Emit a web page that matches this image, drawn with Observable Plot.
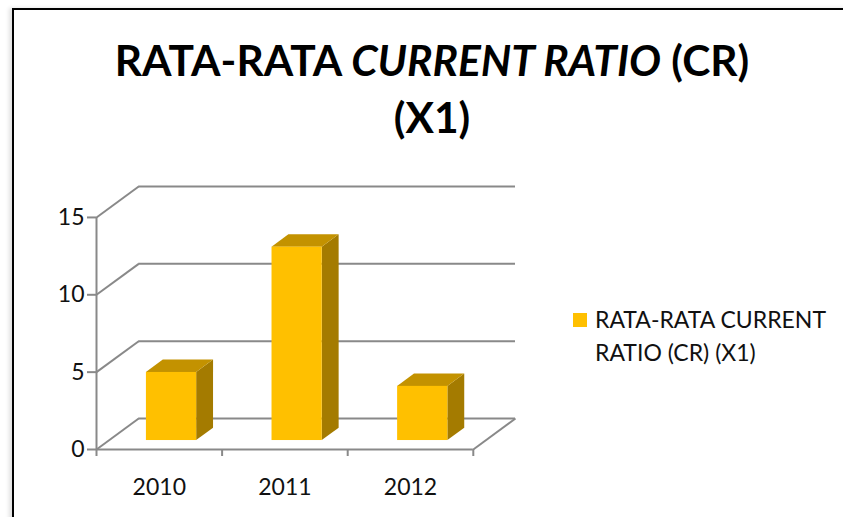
<!DOCTYPE html>
<html>
<head>
<meta charset="utf-8">
<script src="https://cdn.jsdelivr.net/npm/d3@7"></script>
<script src="https://cdn.jsdelivr.net/npm/@observablehq/plot@0.6"></script>
<style>
  html, body { margin: 0; padding: 0; background: #fff; }
  body { width: 843px; height: 517px; position: relative; overflow: hidden; font-family: Lato, "Open Sans", sans-serif; }
  #frame { position: absolute; left: 12px; top: 8px; width: 900px; height: 600px; border-left: 2.5px solid #000; border-top: 2.5px solid #000; box-shadow: -3px 0 4px rgba(0,0,0,0.12); }
  #title { position: absolute; left: 0; width: 864px; top: 31px; text-align: center; font-weight: 700; font-size: 42.5px; line-height: 57px; color: #000; }
  #chart { position: absolute; left: 0; top: 150px; }
  #legend { position: absolute; left: 573px; top: 303px; font-size: 23px; line-height: 33px; color: #111; }
  #legend .sw { position: absolute; left: 0; top: 10px; width: 14px; height: 14px; background: #FFC000; }
  #legend .tx { position: absolute; left: 22px; top: 0; white-space: nowrap; }
</style>
</head>
<body>
<div id="frame"></div>
<div id="title">RATA-RATA <i>CURRENT RATIO</i> (CR)<br>(X1)</div>
<div id="chart"></div>
<div id="legend"><div class="sw"></div><div class="tx">RATA-RATA CURRENT<br>RATIO (CR) (X1)</div></div>
<script>
// ---- data ----
const years = ["2010", "2011", "2012"];
const values = [4.4, 12.5, 3.5];
const yTicks = [0, 5, 10, 15];
const seriesName = "RATA-RATA CURRENT RATIO (CR) (X1)";

// ---- 3D oblique projection constants (in data units) ----
const depthX = 0.336;   // full depth along x (category units)
const depthY = 2.0;     // full depth along y (value units)
const f1 = 0.29;        // bar front plane (fraction of depth)
const bd = 0.40;        // bar depth (fraction of depth)
const barW = 0.40;      // bar width (category units)
const nCat = years.length;
const gray = "#898989";

const bars = years.map((yr, i) => {
  const xl = i + 0.5 - barW / 2 + f1 * depthX;
  const xr = xl + barW;
  const y0 = f1 * depthY;
  return {yr, v: values[i], xl, xr, y0, y1: values[i] + y0};
});
const sidePts = bars.flatMap(b => [
  {yr: b.yr, x: b.xr, lo: b.y0, hi: b.y1},
  {yr: b.yr, x: b.xr + bd * depthX, lo: b.y0 + bd * depthY, hi: b.y1 + bd * depthY}
]);
const topPts = bars.flatMap(b => [
  {yr: b.yr, y: b.y1, l: b.xl, r: b.xr},
  {yr: b.yr, y: b.y1 + bd * depthY, l: b.xl + bd * depthX, r: b.xr + bd * depthX}
]);

const W = 560, H = 367;
const chart = Plot.plot({
  width: W,
  height: H,
  marginLeft: 96,
  marginRight: W - 515,
  marginTop: 36,
  marginBottom: 68,
  x: {domain: [0, nCat + depthX], axis: null},
  y: {domain: [0, 15 + depthY], axis: null},
  style: {fontFamily: "Lato, 'Open Sans', sans-serif", overflow: "visible", background: "transparent"},
  marks: [
    // back wall gridlines
    Plot.ruleY(yTicks, {y: d => d + depthY, x1: depthX, x2: nCat + depthX, stroke: gray, strokeWidth: 2}),
    // left wall diagonals
    Plot.link(yTicks, {x1: 0, y1: d => d, x2: depthX, y2: d => d + depthY, stroke: gray, strokeWidth: 2}),
    // floor right diagonal
    Plot.link([0], {x1: nCat, y1: 0, x2: nCat + depthX, y2: depthY, stroke: gray, strokeWidth: 2}),
    // front axes lines
    Plot.ruleX([0], {y1: 0, y2: 15, stroke: gray, strokeWidth: 2}),
    Plot.ruleY([0], {x1: 0, x2: nCat, stroke: gray, strokeWidth: 2}),
    // ticks
    Plot.axisY({ticks: yTicks, tickSize: 9, tickFormat: () => "", stroke: gray, strokeWidth: 2, label: null}),
    Plot.axisX({ticks: d3.range(nCat + 1), tickSize: 7, tickFormat: () => "", stroke: gray, strokeWidth: 2, label: null}),
    // tick labels
    Plot.text(yTicks, {x: 0, y: d => d, text: d => String(d), dx: -12, textAnchor: "end", fontSize: 23, fill: "#111"}),
    Plot.text(years, {x: (d, i) => i + 0.5, y: 0, text: d => d, dy: 38, fontSize: 23, fill: "#111"}),
    // 3D bars: side, top, front
    Plot.areaY(sidePts, {x: "x", y1: "lo", y2: "hi", z: "yr", fill: "#A47B00", curve: "linear"}),
    Plot.areaX(topPts, {y: "y", x1: "l", x2: "r", z: "yr", fill: "#C39200", curve: "linear"}),
    Plot.rect(bars, {x1: "xl", x2: "xr", y1: "y0", y2: "y1", fill: "#FFC000", title: d => `${seriesName} ${d.yr}: ${d.v}`})
  ]
});
document.getElementById("chart").append(chart);
</script>
</body>
</html>
